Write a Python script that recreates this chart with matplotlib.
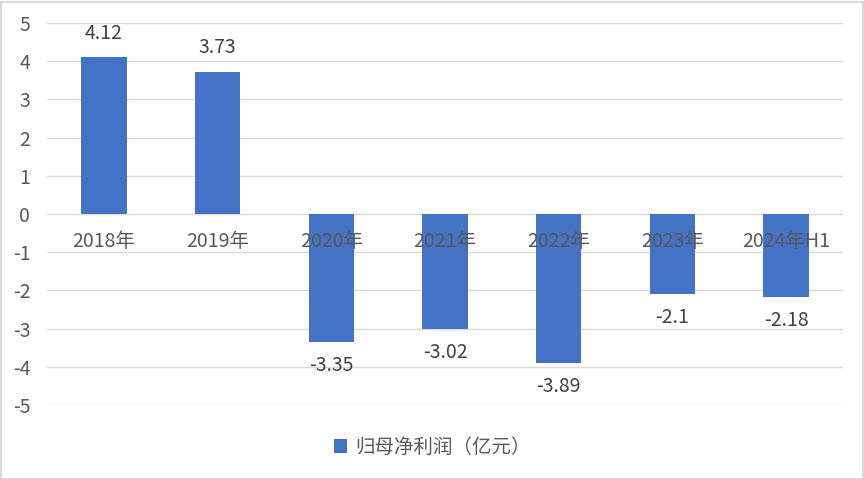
import matplotlib
matplotlib.use("Agg")
import matplotlib.pyplot as plt
from matplotlib.patches import Rectangle

plt.rcParams['font.family'] = ['Noto Sans CJK SC', 'DejaVu Sans']

categories = ["2018年", "2019年", "2020年", "2021年", "2022年", "2023年", "2024年H1"]
values = [4.12, 3.73, -3.35, -3.02, -3.89, -2.1, -2.18]
value_labels = ["4.12", "3.73", "-3.35", "-3.02", "-3.89", "-2.1", "-2.18"]
yticks = [5, 4, 3, 2, 1, 0, -1, -2, -3, -4, -5]
series_name = "归母净利润（亿元）"

W, H = 864, 479
fig = plt.figure(figsize=(W / 100, H / 100), dpi=100)
fig.patch.set_facecolor("white")
fig.add_artist(Rectangle((0.5 / W, 0.5 / H), 1 - 2 / W, 1 - 2 / H, transform=fig.transFigure,
                         fill=False, edgecolor="#d9d9d9", linewidth=1.5))

FS = 14
left, right = 47, 843
top, bottom = 23, 405
ax = fig.add_axes([left / W, 1 - bottom / H, (right - left) / W, (bottom - top) / H])
ax.set_xlim(-0.5, len(categories) - 0.5)
ax.set_ylim(-5, 5)
for s in ax.spines.values():
    s.set_visible(False)
ax.set_yticks(yticks)
ax.set_yticklabels([str(t) for t in yticks])
ax.tick_params(axis='y', length=0, pad=12, labelsize=FS, labelcolor="#595959")
ax.set_xticks([])
ax.grid(axis='y', color="#d9d9d9", linewidth=1)
ax.set_axisbelow(True)

x = list(range(len(categories)))
ax.bar(x, values, width=0.4, color="#4472C4", zorder=2, label=series_name)

for xi, v, lab in zip(x, values, value_labels):
    off = 17 if v >= 0 else -17
    ax.annotate(lab, (xi, v), xytext=(0, off), textcoords="offset points",
                ha="center", va="center", fontsize=FS, color="#404040")

for xi, c in zip(x, categories):
    ax.annotate(c, (xi, 0), xytext=(0, -19.5), textcoords="offset points",
                ha="center", va="center", fontsize=FS, color="#595959", zorder=3)

leg = fig.legend(loc="center", bbox_to_anchor=(0.5, 1 - 447 / H), frameon=False,
                 fontsize=FS, handlelength=0.7, handleheight=0.7, handletextpad=0.4)
for t in leg.get_texts():
    t.set_color("#595959")

fig.savefig("out.png", dpi=100)
